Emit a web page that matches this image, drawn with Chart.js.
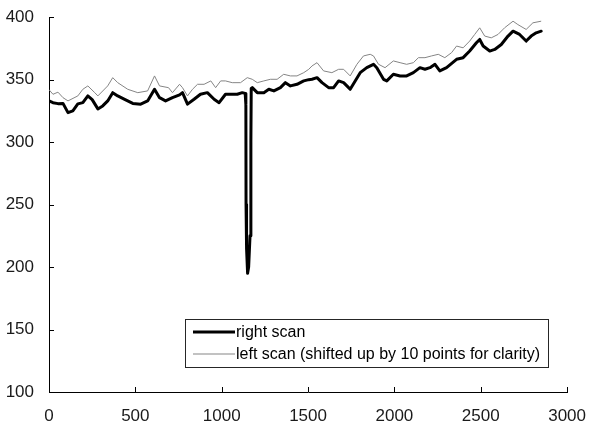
<!DOCTYPE html>
<html>
<head>
<meta charset="utf-8">
<script src="https://cdn.jsdelivr.net/npm/chart.js@4/dist/chart.umd.min.js"></script>
<style>
  html, body { margin: 0; padding: 0; background: #fff; }
  #wrap { position: relative; width: 592px; height: 422px; }
</style>
</head>
<body>
<div id="wrap"><canvas id="c" width="592" height="422"></canvas></div>
<script>
// ---- data ----
const rightX = [0,23,52,81,110,138,167,196,225,250,283,311,340,369,398,438,485,531,571,611,640,675,715,756,773,802,840,877,917,956,985,1022,1061,1090,1119,1136,1140,1141,1144,1150,1156,1164,1169,1171,1177,1206,1244,1273,1302,1340,1369,1398,1436,1475,1504,1523,1552,1581,1619,1648,1677,1706,1735,1744,1773,1802,1840,1879,1898,1937,1956,1994,2033,2071,2110,2148,2177,2206,2235,2263,2302,2360,2398,2436,2475,2494,2514,2552,2581,2619,2658,2687,2725,2763,2792,2821,2850];
const rightY = [333,331.6,330.8,331,323.6,325,330.6,331.6,337,334,326.6,329,333,339.6,337,334.3,331,330.4,333,342.3,335.6,333,335.6,337.8,339.6,330.4,334.3,338.3,339.6,334.3,331.6,338.3,338.3,338.3,339.6,339,330,250,215,195,200,225,300,343,343.6,339.6,339.6,342.3,341,343.6,347.6,345,346.3,349,350,350.3,351.6,347.6,343.6,343.6,349,347.6,343.6,342.3,349,355.6,359.6,362.3,359.6,350.3,349,354.3,353,353,355.6,359.6,358.3,359.6,362.3,357,359.6,366.3,367.6,372.9,379.5,382.2,376.9,372.9,374.2,378.2,384.9,388.8,386.2,380.9,384.9,387.5,388.8];
const leftX = [0,23,52,81,110,167,196,225,265,283,340,369,398,456,514,571,611,640,692,715,756,773,802,831,860,898,937,965,994,1022,1061,1109,1148,1177,1206,1244,1282,1321,1359,1398,1436,1475,1504,1523,1552,1590,1638,1677,1706,1744,1783,1821,1860,1879,1908,1946,1994,2033,2071,2110,2139,2177,2215,2254,2292,2331,2360,2398,2436,2465,2494,2523,2561,2600,2638,2687,2715,2763,2802,2850];
const leftY = [342,338.3,340,335.6,333,337,342.3,345,339.6,337,345,351.6,347.6,342.3,339.6,341,353,345,343.6,339.6,346.3,343.6,337,342.3,346.3,346.3,349,343.6,349,349,347.6,347.6,351.6,350.3,347.6,349,350.3,350.3,354.3,353,353,355.6,358.3,361,363.6,357,355.6,358.3,358.3,353,362.3,369,370.3,369,362.3,359.6,365,363.6,362.3,363.6,367.6,367.6,369,370.3,367.6,371.6,376.9,375.5,380.9,386.2,391.5,384.9,383.5,386.2,391.5,396.8,394.1,390.2,395.5,396.8];
const seriesLabels = ["right scan", "left scan (shifted up by 10 points for clarity)"];
const xTicks = [0,500,1000,1500,2000,2500,3000];
const yTicks = [100,150,200,250,300,350,400];

const toPts = (xs, ys) => xs.map((x, i) => ({x: x, y: ys[i]}));
const FONT = "'Liberation Sans', Arial, sans-serif";

// inward tick marks + legend box
const extras = {
  id: 'extras',
  afterDraw(chart) {
    const ctx = chart.ctx;
    const xs = chart.scales.x, ys = chart.scales.y;
    const ca = chart.chartArea;
    ctx.save();
    ctx.strokeStyle = '#000';
    ctx.lineWidth = 1;
    ctx.beginPath();
    xTicks.forEach(v => {
      const px = Math.round(xs.getPixelForValue(v)) + 0.5;
      ctx.moveTo(px, ca.bottom); ctx.lineTo(px, ca.bottom - 5);
    });
    yTicks.forEach(v => {
      const py = Math.round(ys.getPixelForValue(v)) + 0.5;
      ctx.moveTo(ca.left, py); ctx.lineTo(ca.left + 5, py);
    });
    ctx.stroke();

    // legend
    const bx = 185.5, by = 319.5, bw = 363, bh = 48;
    ctx.fillStyle = '#fff';
    ctx.fillRect(bx, by, bw, bh);
    ctx.strokeStyle = '#262626';
    ctx.lineWidth = 1;
    ctx.strokeRect(bx, by, bw, bh);
    const dsets = chart.data.datasets;
    const rows = [332, 354];
    ctx.font = '16px ' + FONT;
    ctx.textBaseline = 'middle';
    ctx.textAlign = 'left';
    dsets.forEach((d, i) => {
      ctx.strokeStyle = d.borderColor;
      ctx.lineWidth = d.borderWidth;
      ctx.beginPath();
      ctx.moveTo(193, rows[i]); ctx.lineTo(235, rows[i]);
      ctx.stroke();
      ctx.fillStyle = '#000';
      ctx.fillText(d.label, 236, rows[i] + 0.5);
    });
    ctx.restore();
  }
};

new Chart(document.getElementById('c'), {
  type: 'line',
  data: {
    datasets: [
      { label: seriesLabels[0], data: toPts(rightX, rightY), borderColor: '#000000', borderWidth: 3, borderJoinStyle: 'round', borderCapStyle: 'round', pointRadius: 0, tension: 0, fill: false, order: 1 },
      { label: seriesLabels[1], data: toPts(leftX, leftY), borderColor: '#858585', borderWidth: 1, pointRadius: 0, tension: 0, fill: false, order: 2 }
    ]
  },
  options: {
    responsive: false,
    animation: false,
    events: [],
    layout: { padding: { top: 15, right: 23, left: 0, bottom: 0 } },
    plugins: { legend: { display: false }, tooltip: { enabled: false } },
    scales: {
      x: {
        type: 'linear', min: 0, max: 3000,
        afterBuildTicks: s => { s.ticks = xTicks.map(v => ({value: v})); },
        afterFit: s => { s.height = 30; },
        grid: { display: false },
        border: { display: true, color: '#000', width: 1 },
        ticks: { color: '#1a1a1a', padding: 6, maxRotation: 0, font: { size: 17, family: FONT }, callback: v => String(v) }
      },
      y: {
        type: 'linear', min: 100, max: 400,
        afterBuildTicks: s => { s.ticks = yTicks.map(v => ({value: v})); },
        afterFit: s => { s.width = 49; },
        grid: { display: false },
        border: { display: true, color: '#000', width: 1 },
        ticks: { color: '#1a1a1a', padding: 7, font: { size: 17, family: FONT }, callback: v => String(v) }
      }
    }
  },
  plugins: [extras]
});
</script>
</body>
</html>
